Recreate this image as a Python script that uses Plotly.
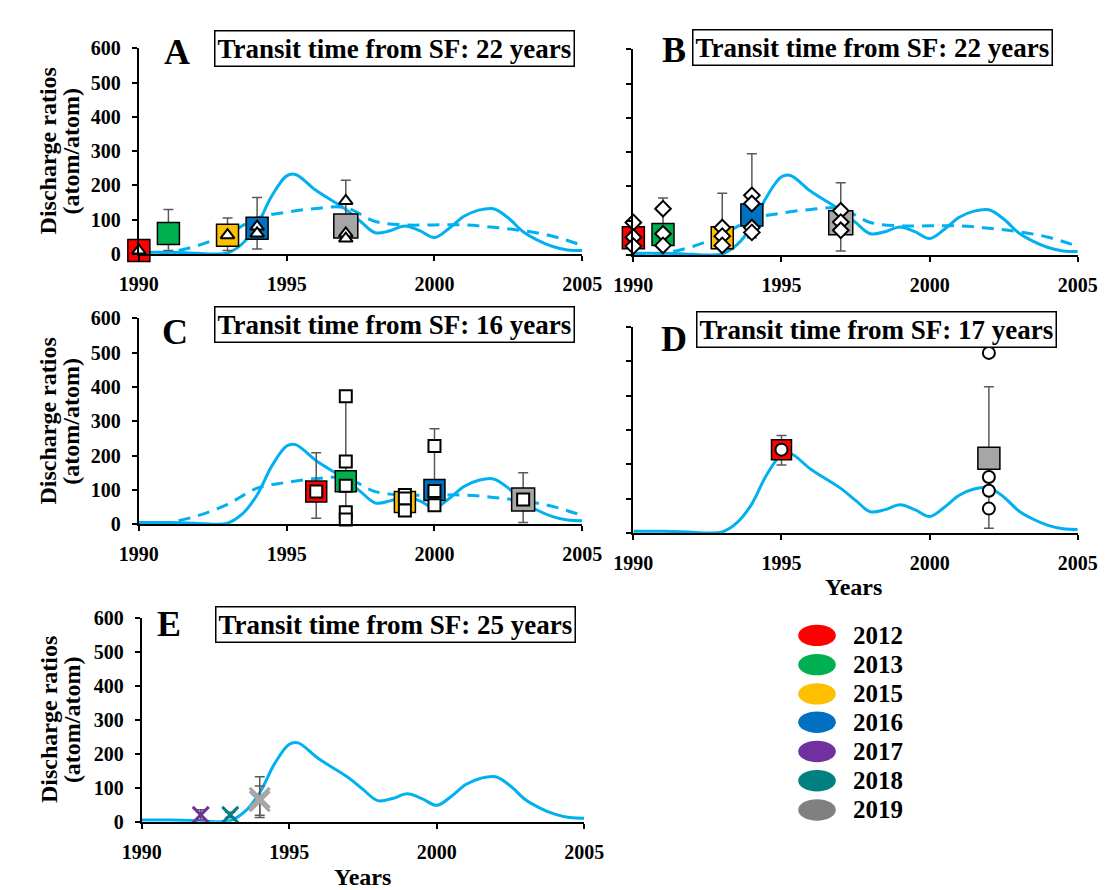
import plotly.graph_objects as go

W, H = 1110, 890
FONT = "'Liberation Serif', 'Times New Roman', Times, serif"

# ---------------- data ----------------
curve_years = [1990, 1991, 1992, 1992.5, 1993, 1993.5, 1994, 1994.5, 1995, 1995.3, 1996, 1997,
               1997.5, 1998, 1998.5, 1999, 1999.5, 2000, 2000.5, 2001, 2001.5, 2002, 2002.5,
               2003, 2003.5, 2004, 2004.5, 2005]
curve_vals = [5, 5, 2, 0, 3, 30, 85, 170, 228, 232, 185, 130,
              95, 62, 68, 82, 68, 48, 75, 110, 128, 132, 105,
              65, 40, 22, 12, 10]

dash_years = [1990, 1991, 1992, 1993, 1994, 1995, 1996, 1997, 1998, 1999, 2000, 2001, 2002, 2003, 2004, 2005]
dash_vals = [2, 5, 25, 58, 105, 122, 133, 135, 95, 85, 85, 85, 78, 68, 52, 25]

year_labels = ["2012", "2013", "2015", "2016", "2017", "2018", "2019"]
year_colors = ["#FF0000", "#00B050", "#FFC000", "#0070C0", "#7030A0", "#008080", "#808080"]
fill_colors = {"2012": "#FF0000", "2013": "#00B050", "2015": "#FFC000", "2016": "#0070C0",
               "2017": "#7030A0", "2018": "#008080", "2019": "#A6A6A6"}

# Panel A (triangles)
A_x = [1990, 1991, 1993, 1994, 1997]
A_lab = ["2012", "2013", "2015", "2016", "2019"]
A_mean = [10, 60, 55, 75, 82]
A_ep = [0, 70, 50, 90, 133]
A_em = [0, 50, 45, 60, 42]
A_ind_x = [1990, 1993, 1994, 1994, 1997, 1997, 1997]
A_ind_y = [10, 55, 80, 60, 155, 60, 45]

# Panel B (diamonds)
B_x = [1990, 1991, 1993, 1994, 1997]
B_lab = ["2012", "2013", "2015", "2016", "2019"]
B_mean = [50, 60, 50, 117, 94]
B_ep = [0, 106, 130, 178, 117]
B_em = [0, 30, 30, 67, 82]
B_ind_x = [1990, 1990, 1990, 1991, 1991, 1991, 1993, 1993, 1993, 1994, 1994, 1994, 1994, 1997, 1997, 1997]
B_ind_y = [95, 52, 26, 135, 62, 28, 80, 55, 28, 174, 150, 80, 66, 129, 96, 72]

# Panel C (squares)
C_x = [1996, 1997, 1999, 2000, 2003]
C_lab = ["2012", "2013", "2015", "2016", "2019"]
C_mean = [95, 125, 65, 100, 72]
C_ep = [113, 250, 25, 178, 78]
C_em = [78, 90, 0, 50, 67]
C_ind_x = [1996, 1997, 1997, 1997, 1997, 1997, 1999, 1999, 1999, 2000, 2000, 2000, 2003]
C_ind_y = [95, 373, 183, 112, 35, 14, 85, 75, 40, 228, 97, 55, 72]

# Panel D (circles)
D_x = [1995, 2002]
D_lab = ["2012", "2019"]
D_mean = [243, 218]
D_ep = [41, 208]
D_em = [45, 204]
D_ind_x = [1995, 2002, 2002, 2002, 2002]
D_ind_y = [243, 525, 163, 123, 71]

# Panel E (crosses)
E_x = [1992, 1993, 1994, 1994]
E_lab = ["2017", "2018", "2019", "2019"]
E_mean = [20, 20, 70, 60]
E_ep = [15, 8, 62, 45]
E_em = [15, 8, 58, 41]

panel_titles = ["Transit time from SF: 22 years", "Transit time from SF: 22 years",
                "Transit time from SF: 16 years", "Transit time from SF: 17 years",
                "Transit time from SF: 25 years"]
panel_letters = ["A", "B", "C", "D", "E"]

# ---------------- layout helpers ----------------
def px(x):
    return x / W

def py(y):
    return 1 - y / H

# pixel boxes: (x0, x1, ytop, ybottom)
boxes = {
    1: (115, 575, 30, 241),
    2: (628, 1089, 31, 242),
    3: (115, 575, 307, 518),
    4: (628, 1089, 316, 527),
    5: (118, 577, 614, 823),
}

fig = go.Figure()
BLUE = "#00B0F0"

def refs(i):
    return ("x" if i == 1 else f"x{i}"), ("y" if i == 1 else f"y{i}")

def add_curve(i, dashed=True):
    xa, ya = refs(i)
    fig.add_trace(go.Scatter(x=curve_years, y=curve_vals, mode="lines",
                             line=dict(color=BLUE, width=3, shape="spline", smoothing=1.0),
                             xaxis=xa, yaxis=ya, showlegend=False, hoverinfo="skip", cliponaxis=False))
    if dashed:
        fig.add_trace(go.Scatter(x=dash_years, y=dash_vals, mode="lines",
                                 line=dict(color=BLUE, width=3, shape="spline", dash="12px,8px"),
                                 xaxis=xa, yaxis=ya, showlegend=False, hoverinfo="skip", cliponaxis=False))

def add_means(i, xs, labs, means, ep, em, size=22, symbol="square"):
    xa, ya = refs(i)
    fig.add_trace(go.Scatter(
        x=xs, y=means, mode="markers",
        marker=dict(symbol=symbol, size=[size + 2 if l == "2019" else size for l in labs], opacity=1,
                    color=[fill_colors[l] for l in labs], line=dict(color="black", width=1.5)),
        error_y=dict(type="data", array=ep, arrayminus=em, color="#595959", thickness=1.5, width=5, symmetric=False),
        xaxis=xa, yaxis=ya, showlegend=False, cliponaxis=False))

def add_ind(i, xs, ys, symbol, size=12):
    xa, ya = refs(i)
    fig.add_trace(go.Scatter(x=xs, y=ys, mode="markers",
                             marker=dict(symbol=symbol, size=size, color="white", opacity=1,
                                         line=dict(color="black", width=2)),
                             xaxis=xa, yaxis=ya, showlegend=False, cliponaxis=False))

# Panel A
add_curve(1)
add_means(1, A_x, A_lab, A_mean, A_ep, A_em)
add_ind(1, A_ind_x, A_ind_y, "triangle-up", 12)
# Panel B
add_curve(2)
add_means(2, B_x, B_lab, B_mean, B_ep, B_em)
add_ind(2, B_ind_x, B_ind_y, "diamond", 12)
# Panel C
add_curve(3)
add_means(3, C_x, C_lab, C_mean, C_ep, C_em, size=21)
add_ind(3, C_ind_x, C_ind_y, "square", 12)
# Panel D
add_curve(4, dashed=False)
add_means(4, D_x, D_lab, D_mean, D_ep, D_em, size=20)
add_ind(4, D_ind_x, D_ind_y, "circle", 12)
# Panel E
add_curve(5, dashed=False)
fig.add_trace(go.Scatter(
    x=E_x, y=E_mean, mode="markers",
    marker=dict(symbol="x-thin", size=[16, 16, 20, 20], opacity=1, color=[fill_colors[l] for l in E_lab],
                line=dict(color=[fill_colors[l] for l in E_lab], width=3)),
    error_y=dict(type="data", array=E_ep, arrayminus=E_em, color="#595959", thickness=1.5, width=5, symmetric=False),
    xaxis="x5", yaxis="y5", showlegend=False, cliponaxis=False))

tickfont = dict(family=FONT, size=20, color="black", weight="bold")
layout = dict(width=W, height=H, margin=dict(l=0, r=0, t=0, b=0), paper_bgcolor="white", plot_bgcolor="white",
              showlegend=False, font=dict(family=FONT))
for i, (x0, x1, yt, yb) in boxes.items():
    xk = "xaxis" if i == 1 else f"xaxis{i}"
    yk = "yaxis" if i == 1 else f"yaxis{i}"
    layout[xk] = dict(domain=[px(x0), px(x1)], range=[1990, 2005], tickvals=[1990, 1995, 2000, 2005],
                      showgrid=False, zeroline=False, showline=True, linecolor="black", linewidth=2,
                      ticks="outside", ticklen=5, tickwidth=1.5, tickcolor="black", tickfont=tickfont,
                      ticklabelstandoff=6,
                      anchor="y" if i == 1 else f"y{i}", fixedrange=True)
    layout[yk] = dict(domain=[py(yb), py(yt)], range=[0, 600], tickvals=[0, 100, 200, 300, 400, 500, 600],
                      showgrid=False, zeroline=False, showline=True, linecolor="black", linewidth=2,
                      ticks="outside", ticklen=5, tickwidth=1.5, tickcolor="black", tickfont=tickfont,
                      ticklabelstandoff=7,
                      showticklabels=i not in (2, 4), anchor="x" if i == 1 else f"x{i}", fixedrange=True)
fig.update_layout(**layout)

ann = []
title_pos = [(380, 30), (876, 29), (380, 313), (880, 318), (381, 621)]
letter_pos = [(155, 34), (670, 32), (153, 321), (670, 328), (146, 620)]
for t, (cx, cy) in zip(panel_titles, title_pos):
    ann.append(dict(text=t, x=px(cx), y=py(cy), xref="paper", yref="paper", showarrow=False,
                    font=dict(family=FONT, size=27, color="black", weight="bold"),
                    bordercolor="black", borderwidth=1.5, borderpad=2, bgcolor="white",
                    xanchor="center", yanchor="middle"))
for t, (cx, cy) in zip(panel_letters, letter_pos):
    ann.append(dict(text=t, x=px(cx), y=py(cy), xref="paper", yref="paper", showarrow=False,
                    font=dict(family=FONT, size=36, color="black", weight="bold"),
                    xanchor="center", yanchor="middle"))
# y-axis titles for A, C, E
for cy in [(30 + 241) / 2, (307 + 518) / 2, (614 + 823) / 2]:
    ann.append(dict(text="Discharge ratios", x=px(21), y=py(cy), xref="paper", yref="paper", showarrow=False,
                    textangle=-90, font=dict(family=FONT, size=24, color="black", weight="bold"),
                    xanchor="center", yanchor="middle"))
    ann.append(dict(text="(atom/atom)", x=px(45), y=py(cy), xref="paper", yref="paper", showarrow=False,
                    textangle=-90, font=dict(family=FONT, size=24, color="black", weight="bold"),
                    xanchor="center", yanchor="middle"))
# x-axis titles
for cx, cy in [(856, 582), (347, 880)]:
    ann.append(dict(text="Years", x=px(cx), y=py(cy), xref="paper", yref="paper", showarrow=False,
                    font=dict(family=FONT, size=24, color="black", weight="bold"),
                    xanchor="center", yanchor="middle"))

# custom legend
shapes = []
leg_y = [632, 662, 692, 721, 751, 781, 811]
for lab, col, ly in zip(year_labels, year_colors, leg_y):
    shapes.append(dict(type="circle", xref="paper", yref="paper", x0=px(799), x1=px(838),
                       y0=py(ly + 11), y1=py(ly - 11), fillcolor=col, line=dict(width=0)))
    ann.append(dict(text=lab, x=px(854), y=py(ly), xref="paper", yref="paper", showarrow=False,
                    font=dict(family=FONT, size=25, color="black", weight="bold"),
                    xanchor="left", yanchor="middle"))

fig.update_layout(annotations=ann, shapes=shapes)
fig.write_html("out.html")
